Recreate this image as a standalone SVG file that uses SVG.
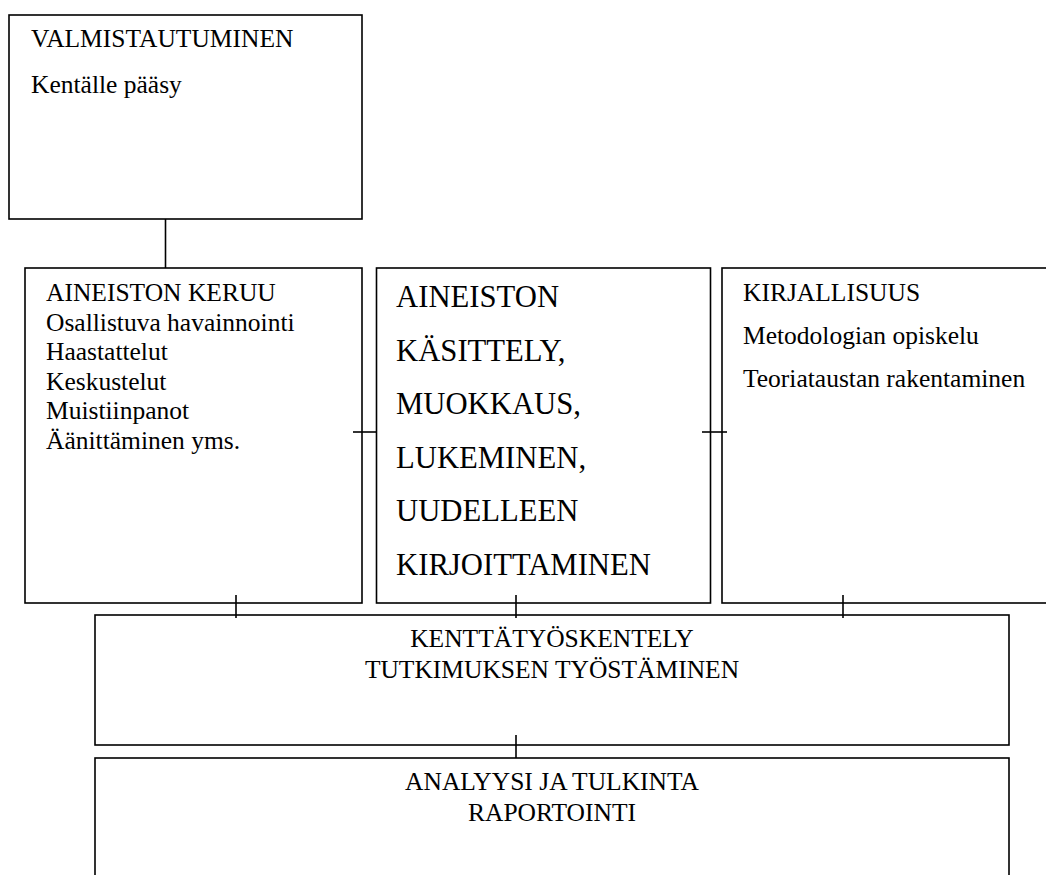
<svg xmlns="http://www.w3.org/2000/svg" width="1046" height="875" viewBox="0 0 1046 875">
<style>
.box{fill:#fff;stroke:#000;stroke-width:1.6}
.ln{stroke:#000;stroke-width:1.6;fill:none}
.t{font-family:"Liberation Serif","Times New Roman",serif;font-size:25.5px;fill:#000}
.big{font-family:"Liberation Serif","Times New Roman",serif;font-size:30.7px;fill:#000}
.c{text-anchor:middle}
</style>
<rect width="1046" height="875" fill="#fff"/>
<g id="valmistautuminen">
<rect class="box" x="9" y="15" width="353" height="204"/>
<text class="t" x="31" y="47">VALMISTAUTUMINEN</text>
<text class="t" x="31" y="93">Kentälle pääsy</text>
</g>
<g id="aineiston-keruu">
<rect class="box" x="25" y="268" width="337" height="335"/>
<text class="t" x="46" y="301">AINEISTON KERUU</text>
<text class="t" x="46" y="330.5">Osallistuva havainnointi</text>
<text class="t" x="46" y="360">Haastattelut</text>
<text class="t" x="46" y="389.5">Keskustelut</text>
<text class="t" x="46" y="419">Muistiinpanot</text>
<text class="t" x="46" y="448.5">Äänittäminen yms.</text>
</g>
<g id="aineiston-kasittely">
<rect class="box" x="376.5" y="268" width="334" height="335"/>
<text class="big" x="396" y="307">AINEISTON</text>
<text class="big" x="396" y="360.5">KÄSITTELY,</text>
<text class="big" x="396" y="414">MUOKKAUS,</text>
<text class="big" x="396" y="468">LUKEMINEN,</text>
<text class="big" x="396" y="521">UUDELLEEN</text>
<text class="big" x="396" y="575">KIRJOITTAMINEN</text>
</g>
<g id="kirjallisuus">
<rect class="box" x="722" y="268" width="340" height="335"/>
<text class="t" x="743" y="301">KIRJALLISUUS</text>
<text class="t" x="743" y="344">Metodologian opiskelu</text>
<text class="t" x="743" y="387">Teoriataustan rakentaminen</text>
</g>
<g id="kenttatyoskentely">
<rect class="box" x="95" y="615" width="914" height="130"/>
<text class="t c" x="552" y="647">KENTTÄTYÖSKENTELY</text>
<text class="t c" x="552" y="678">TUTKIMUKSEN TYÖSTÄMINEN</text>
</g>
<g id="analyysi">
<rect class="box" x="95" y="758" width="914" height="140"/>
<text class="t c" x="552" y="790">ANALYYSI JA TULKINTA</text>
<text class="t c" x="552" y="821">RAPORTOINTI</text>
</g>
<g id="connectors">
<line class="ln" x1="165.5" y1="219" x2="165.5" y2="268"/>
<line class="ln" x1="353" y1="432" x2="376" y2="432"/>
<line class="ln" x1="702" y1="432" x2="727" y2="432"/>
<line class="ln" x1="236" y1="595" x2="236" y2="618"/>
<line class="ln" x1="516" y1="595" x2="516" y2="618"/>
<line class="ln" x1="843" y1="595" x2="843" y2="618"/>
<line class="ln" x1="516" y1="735" x2="516" y2="758"/>
</g>
</svg>
